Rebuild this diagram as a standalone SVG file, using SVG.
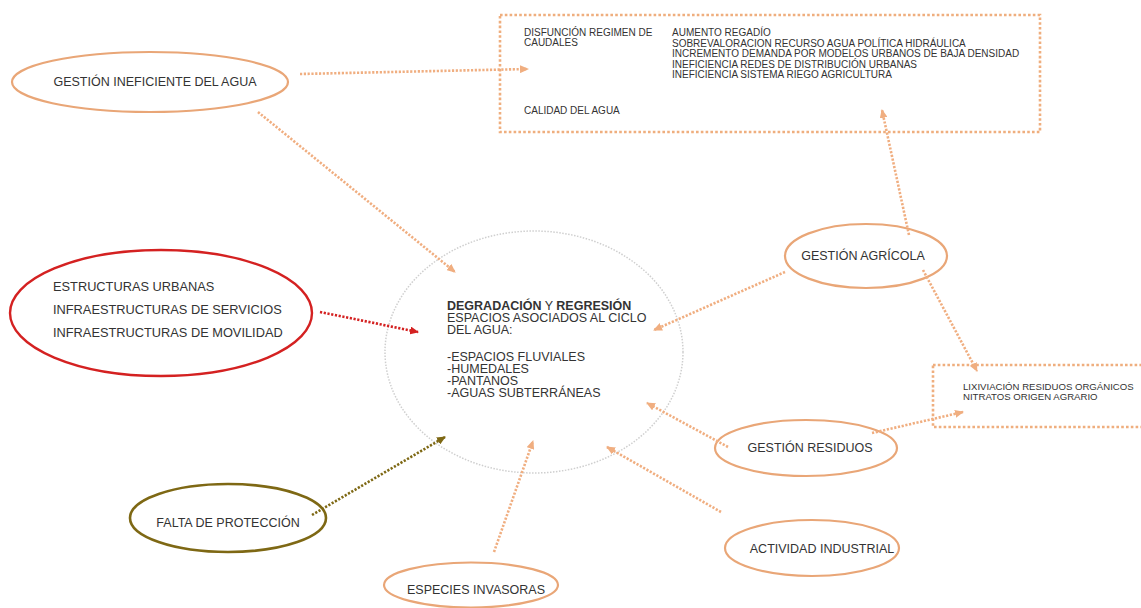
<svg xmlns="http://www.w3.org/2000/svg" width="1141" height="608" viewBox="0 0 1141 608">
<style>
text{font-family:"Liberation Sans",Arial,sans-serif;fill:#333;}
.t{font-size:12.5px;}
.s{font-size:10px;}
.m{font-size:9.6px;}
.node{fill:#fff;stroke:#E9A677;stroke-width:2.2;}
.box{fill:none;stroke:#EFAE7E;stroke-width:2.6;stroke-dasharray:2.6 2.2;}
.c{fill:none;stroke-width:2.6;stroke-dasharray:2.2 1.6;}
.o{stroke:#F0AE80;}
.r{stroke:#D42121;}
.g{stroke:#7E6814;}
</style>
<defs>
<marker id="ao" markerWidth="9" markerHeight="8" refX="8" refY="4" orient="auto" markerUnits="userSpaceOnUse"><path d="M0,0 L9,4 L0,8 Z" fill="#F0AE80"/></marker>
<marker id="ar" markerWidth="9" markerHeight="8" refX="8" refY="4" orient="auto" markerUnits="userSpaceOnUse"><path d="M0,0 L9,4 L0,8 Z" fill="#D42121"/></marker>
<marker id="ag" markerWidth="9" markerHeight="8" refX="8" refY="4" orient="auto" markerUnits="userSpaceOnUse"><path d="M0,0 L9,4 L0,8 Z" fill="#7E6814"/></marker>
</defs>
<rect width="1141" height="608" fill="#fff"/>

<g id="centro">
<ellipse cx="534" cy="352" rx="149" ry="121" fill="none" stroke="#CFCFCF" stroke-width="1.5" stroke-dasharray="1.5 1.5"/>
<text class="t" x="447" y="310"><tspan font-weight="bold">DEGRADACIÓN</tspan> Y <tspan font-weight="bold">REGRESIÓN</tspan></text>
<text class="t" x="447" y="322">ESPACIOS ASOCIADOS AL CICLO</text>
<text class="t" x="447" y="334">DEL AGUA:</text>
<text class="t" x="447" y="361">-ESPACIOS FLUVIALES</text>
<text class="t" x="447" y="373">-HUMEDALES</text>
<text class="t" x="447" y="385">-PANTANOS</text>
<text class="t" x="447" y="397">-AGUAS SUBTERRÁNEAS</text>
</g>

<g id="caja-agua">
<rect class="box" x="500" y="15" width="540" height="117"/>
<text class="s" x="524" y="36">DISFUNCIÓN REGIMEN DE</text>
<text class="s" x="524" y="46">CAUDALES</text>
<text class="s" x="672" y="36">AUMENTO REGADÍO</text>
<text class="s" x="672" y="46.5">SOBREVALORACION RECURSO AGUA POLÍTICA HIDRÁULICA</text>
<text class="s" x="672" y="57">INCREMENTO DEMANDA POR MODELOS URBANOS DE BAJA DENSIDAD</text>
<text class="s" x="672" y="67.5">INEFICIENCIA REDES DE DISTRIBUCIÓN URBANAS</text>
<text class="s" x="672" y="78">INEFICIENCIA SISTEMA RIEGO AGRICULTURA</text>
<text class="s" x="524" y="114">CALIDAD DEL AGUA</text>
</g>

<g id="caja-residuos">
<rect class="box" x="933" y="365" width="230" height="62"/>
<text class="m" x="963" y="390">LIXIVIACIÓN RESIDUOS ORGÁNICOS</text>
<text class="m" x="963" y="400">NITRATOS ORIGEN AGRARIO</text>
</g>

<g id="gestion-ineficiente">
<ellipse class="node" cx="150" cy="82" rx="138" ry="30"/>
<text class="t" x="155" y="86" text-anchor="middle">GESTIÓN INEFICIENTE DEL AGUA</text>
</g>

<g id="estructuras">
<ellipse cx="161" cy="313" rx="151" ry="63" fill="#fff" stroke="#D42121" stroke-width="2.4"/>
<text x="53" y="291" style="font-size:12.8px">ESTRUCTURAS URBANAS</text>
<text x="53" y="314" style="font-size:12.8px">INFRAESTRUCTURAS DE SERVICIOS</text>
<text x="53" y="337" style="font-size:12.8px">INFRAESTRUCTURAS DE MOVILIDAD</text>
</g>

<g id="falta-proteccion">
<ellipse cx="228" cy="518" rx="98" ry="34" fill="#fff" stroke="#7E6814" stroke-width="2.6"/>
<text class="t" x="228" y="527" text-anchor="middle">FALTA DE PROTECCIÓN</text>
</g>

<g id="especies-invasoras">
<ellipse class="node" cx="471" cy="585" rx="87" ry="22.5"/>
<text class="t" x="476" y="594" text-anchor="middle">ESPECIES INVASORAS</text>
</g>

<g id="actividad-industrial">
<ellipse class="node" cx="812" cy="548" rx="87" ry="28"/>
<text class="t" x="822" y="553" text-anchor="middle">ACTIVIDAD INDUSTRIAL</text>
</g>

<g id="gestion-residuos">
<ellipse class="node" cx="806" cy="448" rx="91" ry="28"/>
<text class="t" x="810" y="452" text-anchor="middle">GESTIÓN RESIDUOS</text>
</g>

<g id="gestion-agricola">
<ellipse class="node" cx="866" cy="256" rx="81" ry="32"/>
<text class="t" x="863" y="260" text-anchor="middle">GESTIÓN AGRÍCOLA</text>
</g>

<g id="connectors">
<line class="c o" x1="300" y1="74" x2="528" y2="69" marker-end="url(#ao)"/>
<line class="c o" x1="258" y1="112" x2="455" y2="272" marker-end="url(#ao)"/>
<line class="c r" x1="320" y1="312" x2="418" y2="332" marker-end="url(#ar)"/>
<line class="c g" x1="312" y1="515" x2="445" y2="437" marker-end="url(#ag)"/>
<line class="c o" x1="494" y1="552" x2="533" y2="441" marker-end="url(#ao)"/>
<line class="c o" x1="721" y1="512" x2="607" y2="447" marker-end="url(#ao)"/>
<line class="c o" x1="728" y1="447" x2="647" y2="403" marker-end="url(#ao)"/>
<line class="c o" x1="785" y1="272" x2="654" y2="330" marker-end="url(#ao)"/>
<line class="c o" x1="909" y1="235" x2="882" y2="110" marker-end="url(#ao)"/>
<line class="c o" x1="923" y1="270" x2="977" y2="371" marker-end="url(#ao)"/>
<line class="c o" x1="872" y1="433" x2="963" y2="412" marker-end="url(#ao)"/>
</g>
</svg>
